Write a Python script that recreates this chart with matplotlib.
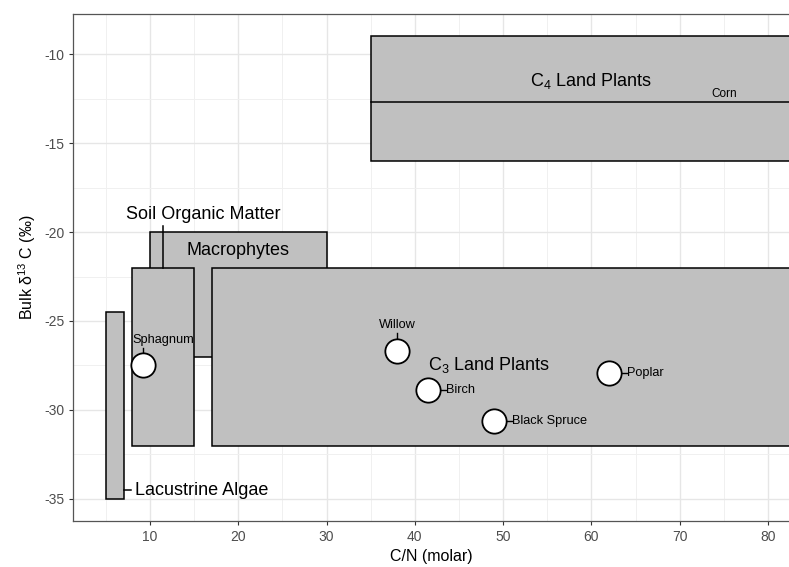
import matplotlib
matplotlib.use("Agg")
import matplotlib.pyplot as plt
from matplotlib.patches import Rectangle
from matplotlib.ticker import MultipleLocator

plt.rcParams['font.family'] = ['Liberation Sans', 'DejaVu Sans']
plt.rcParams['axes.unicode_minus'] = False
plt.rcParams['mathtext.fontset'] = 'custom'
plt.rcParams['mathtext.rm'] = 'Liberation Sans'

# source boxes: name, x0, x1, y0, y1 (draw order matters)
box_names = ['Lacustrine Algae', 'Macrophytes', 'Soil Organic Matter', 'C3 Land Plants', 'C4 Land Plants']
box_x0 = [5, 10, 8, 17, 35]
box_x1 = [7, 30, 15, 100, 100]
box_y0 = [-35, -27, -32, -32, -16]
box_y1 = [-24.5, -20, -22, -22, -9]

# samples
pt_names = ['Sphagnum', 'Willow', 'Birch', 'Black Spruce', 'Poplar']
pt_cn = [9.2, 38.0, 41.5, 49.0, 62.0]
pt_d13c = [-27.5, -26.7, -28.9, -30.6, -27.9]

corn_d13c = -12.7

fig = plt.figure(figsize=(7.89, 5.67), dpi=100)
ax = fig.add_axes([0.0929, 0.0817, 0.9071, 0.8936])
ax.set_xlim(1.31, 82.38)
ax.set_ylim(-36.22, -7.75)

ax.xaxis.set_major_locator(MultipleLocator(10))
ax.xaxis.set_minor_locator(MultipleLocator(5))
ax.yaxis.set_major_locator(MultipleLocator(5))
ax.yaxis.set_minor_locator(MultipleLocator(2.5))
ax.grid(which='major', color='#E6E6E6', linewidth=1.0)
ax.grid(which='minor', color='#F0F0F0', linewidth=0.7)
ax.set_axisbelow(True)
ax.set_xticks([10, 20, 30, 40, 50, 60, 70, 80])
ax.tick_params(which='minor', length=0)
ax.tick_params(which='major', length=3, color='#333333', labelsize=10, labelcolor='#4D4D4D')
for s in ['left', 'bottom', 'top']:
    ax.spines[s].set_color('#555555')
    ax.spines[s].set_linewidth(0.9)
ax.spines['right'].set_visible(False)

for i in range(len(box_names)):
    ax.add_patch(Rectangle((box_x0[i], box_y0[i]), box_x1[i] - box_x0[i], box_y1[i] - box_y0[i],
                           facecolor='#C0C0C0', edgecolor='black', linewidth=1.1, zorder=2))

ax.plot([35, 100], [corn_d13c, corn_d13c], color='black', linewidth=1.1, zorder=3)
ax.text(75, corn_d13c + 0.12, 'Corn', fontsize=8.5, ha='center', va='bottom', zorder=4)

# group labels
ax.text(60, -11.5, 'C$_4$ Land Plants', fontsize=13, ha='center', va='center', zorder=4)
ax.text(48.4, -27.5, 'C$_3$ Land Plants', fontsize=13, ha='center', va='center', zorder=4)
ax.text(20, -21.05, 'Macrophytes', fontsize=13, ha='center', va='center', zorder=4)
ax.text(16.0, -19.0, 'Soil Organic Matter', fontsize=13, ha='center', va='center', zorder=4)
ax.plot([11.5, 11.5], [-19.65, -22], color='black', linewidth=1.1, zorder=4)
ax.text(8.3, -34.5, 'Lacustrine Algae', fontsize=13, ha='left', va='center', zorder=4)
ax.plot([7, 7.9], [-34.5, -34.5], color='black', linewidth=1.1, zorder=4)

ax.plot(pt_cn, pt_d13c, 'o', markersize=17.5, markerfacecolor='white', markeredgecolor='black',
        markeredgewidth=1.3, zorder=5)

# point labels: above or right of the point
lab_pos = {'Sphagnum': (11.5, -26.05, 'center'), 'Willow': (38.0, -25.2, 'center'),
           'Birch': (43.5, -28.9, 'left'), 'Black Spruce': (51.0, -30.6, 'left'),
           'Poplar': (64.0, -27.9, 'left')}
for n, x, y in zip(pt_names, pt_cn, pt_d13c):
    lx, ly, ha = lab_pos[n]
    ax.text(lx, ly, n, fontsize=9.2, ha=ha, va='center', zorder=6)
    if ha == 'center':
        ax.plot([x, x], [ly - 0.45, y + 0.62], color='black', linewidth=1.0, zorder=4)
    else:
        ax.plot([x + 1.2, lx], [y, y], color='black', linewidth=1.0, zorder=4)

ax.set_xlabel('C/N (molar)', fontsize=11.5)
ax.set_ylabel('Bulk δ$^{13}$ C (‰)', fontsize=11.5)

fig.savefig('out.png', dpi=100)
